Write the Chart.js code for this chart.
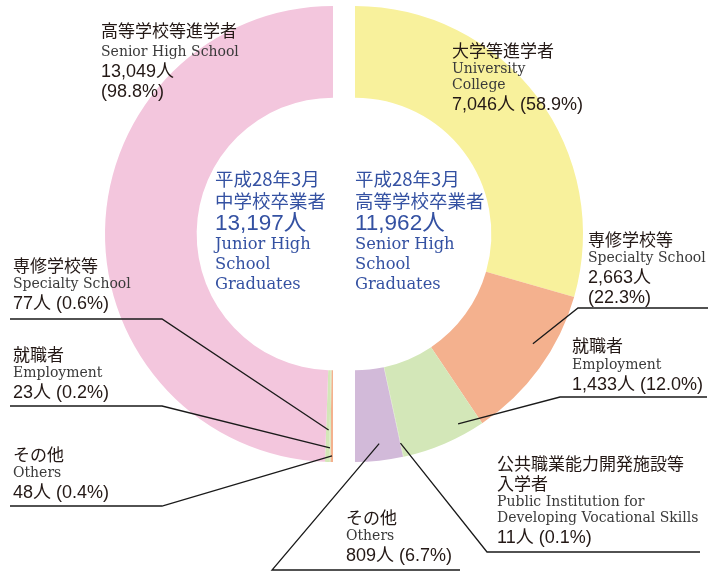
<!DOCTYPE html>
<html>
<head>
<meta charset="utf-8">
<script src="https://cdn.jsdelivr.net/npm/chart.js@4/dist/chart.umd.min.js"></script>
<style>
  html, body { margin: 0; padding: 0; background: #fff; }
  #wrap { position: relative; width: 724px; height: 576px; overflow: hidden; }
  #wrap canvas { position: absolute; left: 0; top: 0; }
  .lbl { position: absolute; white-space: nowrap; color: #231815; }
  .jp { font: 17px/20px "Noto Sans CJK JP", sans-serif; white-space: pre-line; }
  .en { font: 14px/16px "DejaVu Serif", serif; color: #3a3a3a; }
  .num { font: 18px/20px "Liberation Sans", "Noto Sans CJK JP", sans-serif; margin-top: 2px; }
  .ctr { color: #3451a2; }
  .ctr .jp { font-size: 18.5px; line-height: 22px; }
  .ctr .num { font-size: 22.5px; line-height: 23px; margin-top: 0; }
  .ctr .en { font-size: 16.3px; line-height: 20px; color: #3451a2; }
</style>
</head>
<body>
<div id="wrap">
  <canvas id="leftHalf" width="724" height="576"></canvas>
  <canvas id="rightHalf" width="724" height="576"></canvas>
</div>
<script>
// Junior high school graduates (left half), from bottom going round to top
const leftLabels = ['その他', '就職者', '専修学校等', '高等学校等進学者'];
const leftEnglish = [['Others'], ['Employment'], ['Specialty School'], ['Senior High School']];
const leftValues = [48, 23, 77, 13049];
const leftPercents = ['0.4', '0.2', '0.6', '98.8'];
const leftColors = ['#f4b18e', '#d3e7b8', '#d3e7b8', '#f3c6dd'];

// Senior high school graduates (right half), from top going round to bottom
const rightLabels = ['大学等進学者', '専修学校等', '就職者', '公共職業能力開発施設等\n入学者', 'その他'];
const rightEnglish = [['University', 'College'], ['Specialty School'], ['Employment'],
  ['Public Institution for', 'Developing Vocational Skills'], ['Others']];
const rightValues = [7046, 2663, 1433, 11, 809];
const rightPercents = ['58.9', '22.3', '12.0', '0.1', '6.7'];
const rightColors = ['#f8f19c', '#f4b18e', '#d3e7b8', '#d3e7b8', '#d2bad9'];

const centerTitles = [['平成28年3月', '中学校卒業者'], ['平成28年3月', '高等学校卒業者']];
const centerEnglish = [['Junior High', 'School', 'Graduates'], ['Senior High', 'School', 'Graduates']];

const wrap = document.getElementById('wrap');
const fmt = n => n.toLocaleString('en-US');

function addLabel(x, y, jp, en, value, pct, split, cls, enGap) {
    const d = document.createElement('div');
    d.className = 'lbl' + (cls ? ' ' + cls : '');
    d.style.left = x + 'px';
    d.style.top = y + 'px';
    let html = '';
    jp.forEach(t => html += '<div class="jp">' + t + '</div>');
    const enHtml = en.map((t, k) => '<div class="en"' + (k === 0 && enGap ? ' style="margin-top:' + enGap + 'px"' : '') + '>' + t + '</div>').join('');
    if (cls === 'ctr') {
        html += '<div class="num">' + fmt(value) + '人</div>' + enHtml;
    } else {
        html += enHtml;
        if (split) {
            html += '<div class="num">' + fmt(value) + '人</div><div class="num" style="margin-top:0">(' + pct + '%)</div>';
        } else {
            html += '<div class="num">' + fmt(value) + '人 (' + pct + '%)</div>';
        }
    }
    d.innerHTML = html;
    wrap.appendChild(d);
}

// label placement: [index, x, y, splitNumberLine, extra gap above English]
const leftPlaces = [[0, 13, 444, false, 0], [1, 13, 344, false, 0], [2, 13, 255, false, 0], [3, 101, 20, true, 3]];
const rightPlaces = [[0, 452, 40, false, 0], [1, 588, 229, true, 0], [2, 572, 335, false, 1], [3, 497, 453, false, 0], [4, 346, 507, false, 0]];

leftPlaces.forEach(([i, x, y, s, g]) => addLabel(x, y, [leftLabels[i]], leftEnglish[i], leftValues[i], leftPercents[i], s, '', g));
rightPlaces.forEach(([i, x, y, s, g]) => addLabel(x, y, [rightLabels[i]], rightEnglish[i], rightValues[i], rightPercents[i], s, '', g));

const sum = a => a.reduce((s, v) => s + v, 0);
addLabel(215, 167, centerTitles[0], centerEnglish[0], sum(leftValues), null, false, 'ctr', 0);
addLabel(355, 167, centerTitles[1], centerEnglish[1], sum(rightValues), null, false, 'ctr', 0);

// leader lines: slice index, position along the slice (0..1), radius, elbow, far end of underline
const leftLeaders = [
    {i: 2, t: 0.3, r: 196, elbow: [162, 319], end: [10, 319]},
    {i: 1, t: 0.5, r: 214, elbow: [162, 406], end: [10, 406]},
    {i: 0, t: 0.4, r: 222, elbow: [162, 506], end: [10, 506]}
];
const rightLeaders = [
    {i: 1, t: 0.39, r: 209, elbow: [578, 308], end: [708, 308]},
    {i: 2, t: 0.25, r: 216, elbow: [560, 397], end: [707, 397]},
    {i: 3, t: 0.5, r: 214, elbow: [487, 552], end: [700, 552]},
    {i: 4, t: 0.46, r: 211, elbow: [272, 570], end: [460, 570]}
];

function leaderPlugin(leaders) {
    return {
        id: 'leaders',
        afterDatasetsDraw(chart) {
            const ctx = chart.ctx;
            const arcs = chart.getDatasetMeta(0).data;
            ctx.save();
            ctx.strokeStyle = '#1a1a1a';
            ctx.lineWidth = 1.3;
            leaders.forEach(l => {
                const a = arcs[l.i];
                const ang = a.startAngle + (a.endAngle - a.startAngle) * l.t;
                ctx.beginPath();
                ctx.moveTo(l.end[0], l.end[1]);
                ctx.lineTo(l.elbow[0], l.elbow[1]);
                ctx.lineTo(a.x + Math.cos(ang) * l.r, a.y + Math.sin(ang) * l.r);
                ctx.stroke();
            });
            ctx.restore();
        }
    };
}

function halfDonut(id, labels, values, colors, rotation, padding, leaders) {
    return new Chart(document.getElementById(id).getContext('2d'), {
        type: 'doughnut',
        data: {
            labels: labels,
            datasets: [{
                data: values,
                backgroundColor: colors,
                borderWidth: 0
            }]
        },
        options: {
            responsive: false,
            animation: false,
            rotation: rotation,
            circumference: 180,
            radius: 228,
            cutout: '59.8%',
            layout: {padding: padding},
            plugins: {
                legend: {display: false},
                tooltip: {enabled: false}
            },
            events: []
        },
        plugins: [leaderPlugin(leaders)]
    });
}

halfDonut('leftHalf', leftLabels, leftValues, leftColors, 180, {left: 0, right: 286, top: 0, bottom: 108}, leftLeaders);
halfDonut('rightHalf', rightLabels, rightValues, rightColors, 0, {left: 214, right: 0, top: 0, bottom: 108}, rightLeaders);
</script>
</body>
</html>
